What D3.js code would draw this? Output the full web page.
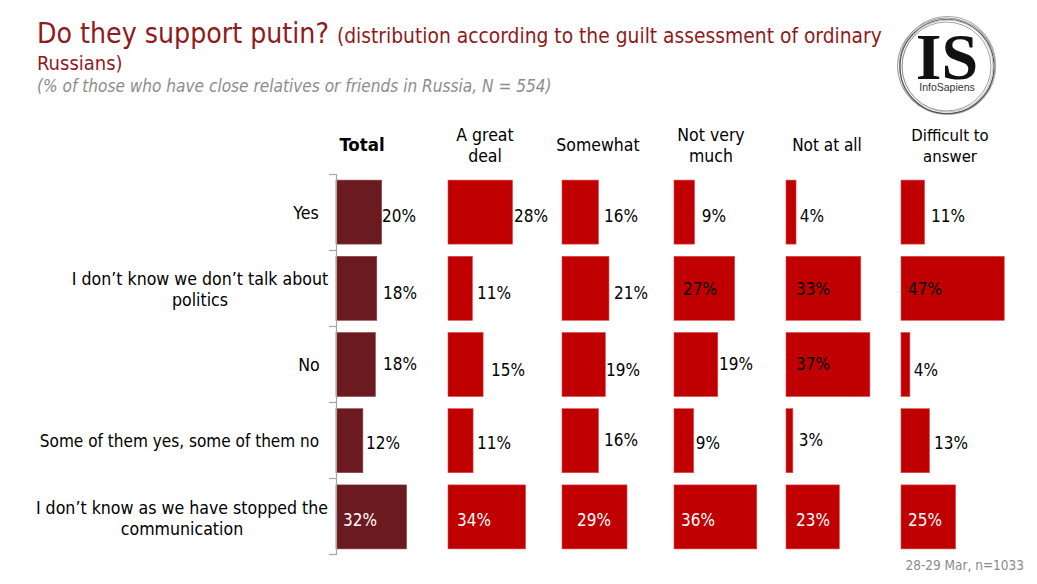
<!DOCTYPE html>
<html><head><meta charset="utf-8">
<script src="https://cdnjs.cloudflare.com/ajax/libs/d3/7.8.5/d3.min.js"></script>
<style>html,body{margin:0;padding:0;background:#fff}svg{display:block}text{font-family:"DejaVu Sans Condensed","DejaVu Sans",sans-serif}</style>
</head><body><div id="c"></div>
<script>
const categories=[["Yes"],["I don’t know we don’t talk about","politics"],["No"],["Some of them yes, some of them no"],["I don’t know as we have stopped the","communication"]];
const columns=[["Total"],["A great","deal"],["Somewhat"],["Not very","much"],["Not at all"],["Difficult to","answer"]];
const total=[20.4,18.2,17.6,12,31.5];
const greatDeal=[28.3,10.7,15.4,11,34];
const somewhat=[16,20.6,19,16,28.5];
const notVery=[9,26.6,19.2,8.6,36.3];
const notAtAll=[4.4,32.8,36.8,3,23.4];
const difficult=[10.6,46.5,4,12.8,24.6];
const labels=[[20,18,18,12,32],[28,11,15,11,34],[16,21,19,16,29],[9,27,19,9,36],[4,33,37,3,23],[11,47,4,13,25]];
const seriesList=[total,greatDeal,somewhat,notVery,notAtAll,difficult];
const panelX=[336,448,562,674,786,901];
const panelScale=[224,228,228,228,228,222];
const headX=[362,485,598,711,827,950];
const headSize=[18.5,17.5,17.5,17.5,17,16.6];
const labelAnchor=[[399,400,400,383,360],[531,494,508,494,474],[621,631,623,621,594],[714,700,736,708,698],[812,813,813,811,813],[948,925,926,951,925]];
const labelYs=[[222,299,370,449,526],[222,299,376,449,526],[222,299,376,446,526],[222,295,370,449,526],[222,295,370,446,526],[222,295,376,449,526]];
const W=1037,H=584;
const svg=d3.select("#c").append("svg").attr("width",W).attr("height",H);
const darkText="#8f1a20";
const title=svg.append("text").attr("x",37).attr("y",43).attr("fill",darkText);
title.append("tspan").attr("font-size",28.2).text("Do they support putin?");
title.append("tspan").attr("font-size",20.8).attr("dx",8).text("(distribution according to the guilt assessment of ordinary");
svg.append("text").attr("x",37).attr("y",70).attr("fill",darkText).attr("font-size",20).text("Russians)");
svg.append("text").attr("x",37).attr("y",92).attr("fill","#8c8c8c").attr("font-style","italic").attr("font-size",17.1).text("(% of those who have close relatives or friends in Russia, N = 554)");

const y=d3.scaleBand().domain(d3.range(categories.length)).range([174,555]).paddingInner(0.16).paddingOuter(0.08);
seriesList.forEach((s,i)=>{
  const x=d3.scaleLinear().domain([0,100]).range([0,panelScale[i]]);
  const g=svg.append("g");
  g.selectAll("rect").data(s).join("rect")
    .attr("x",panelX[i]).attr("y",(d,j)=>y(j)).attr("width",d=>x(d)).attr("height",y.bandwidth())
    .attr("fill",i==0?"#6b1a1f":"#c00000").attr("stroke",i==0?"#8a4a4e":"#d94a4a").attr("stroke-width",0.6);
  g.selectAll("text").data(labels[i]).join("text")
    .attr("x",(d,j)=>labelAnchor[i][j]).attr("y",(d,j)=>labelYs[i][j]).attr("text-anchor","middle")
    .attr("font-size",17).attr("fill",(d,j)=>(j==4)?"#fff":"#000").text(d=>d+"%");
});
const axis=d3.axisLeft(d3.scaleLinear().domain([0,5]).range([174,554])).ticks(5).tickFormat("").tickSize(7);
svg.append("g").attr("transform","translate(336,0)").call(axis).call(g=>{g.selectAll("path,line").attr("stroke","#a6a6a6").attr("stroke-width",1.2)});

categories.forEach((c,i)=>{
  const cy=y(i)+y.bandwidth()/2, two=c.length>1;
  const anchorX=[306,200,309,179.5,182][i];
  const size=i==3?17.05:17.6;
  c.forEach((t,k)=>svg.append("text").attr("x",anchorX).attr("y",two?cy-3+k*21:cy+6.5).attr("text-anchor","middle").attr("font-size",size).attr("fill","#000").text(t));
});
columns.forEach((c,i)=>{
  c.forEach((t,k)=>svg.append("text").attr("x",headX[i]).attr("y",c.length>1?141+k*21:151).attr("text-anchor","middle").attr("font-size",headSize[i]).attr("font-weight",i==0?"bold":"normal").attr("fill","#000").text(t));
});
svg.append("text").attr("x",1024).attr("y",570).attr("text-anchor","end").attr("font-size",13.5).attr("fill","#8c8c8c").text("28-29 Mar, n=1033");

const logo=svg.append("g").attr("transform","translate(947,66)");
[[49,48,-0.5,0,"#888",0.9],[48,49,0.5,-0.5,"#aaa",1.1],[47,47,0,0.5,"#555",1.2],[45.5,46,0.5,0,"#bbb",0.8],[44.5,44.5,-0.5,0.5,"#777",0.7]].forEach(r=>logo.append("ellipse").attr("cx",r[2]).attr("cy",r[3]).attr("rx",r[0]).attr("ry",r[1]).attr("fill","none").attr("stroke",r[4]).attr("stroke-width",r[5]));
logo.append("text").attr("y",13).attr("text-anchor","middle").attr("font-size",66).attr("font-weight","bold").attr("style","font-family:'Liberation Serif',serif").attr("fill","#111").text("IS");
logo.append("text").attr("y",25).attr("text-anchor","middle").attr("font-size",10.5).attr("style","font-family:'Liberation Sans',sans-serif").attr("fill","#333").text("InfoSapiens");
</script></body></html>
